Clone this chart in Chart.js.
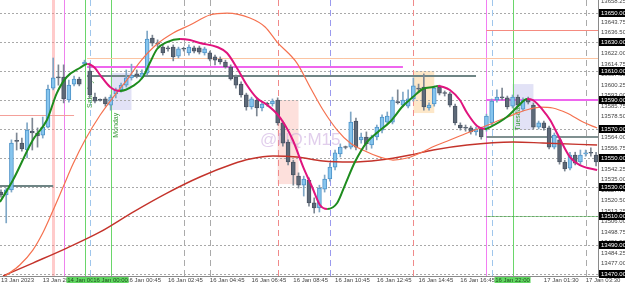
<!DOCTYPE html>
<html>
<head>
<meta charset="utf-8">
<script src="https://cdn.jsdelivr.net/npm/chart.js@4.4.1/dist/chart.umd.min.js"></script>
<style>
html, body { margin: 0; padding: 0; background: #fff; overflow: hidden; }
</style>
</head>
<body>
<canvas id="chart" width="625" height="283"></canvas>
<script>
// NQ M15 candles, bar index 0..114
const opens = [13526.5, 13524.5, 13528, 13561.75, 13560.25, 13555.5, 13568.5, 13567.25, 13565.75, 13571.25,
  13598.25, 13605.75, 13605.75, 13590, 13601, 13604.5, 13614.75, 13610, 13592, 13590,
  13590.75, 13586.5, 13594.25, 13597, 13600.25, 13605.25, 13608, 13605.75, 13608.5, 13632.75,
  13629.25, 13626.5, 13626, 13626.5, 13620.25, 13625.25, 13622.5, 13626, 13626, 13622.5,
  13622.5, 13619.75, 13618.25, 13616.25, 13612.75, 13605.75, 13601, 13593.5, 13585.25, 13590,
  13584.5, 13587.25, 13587.25, 13590, 13574.25, 13561, 13547.25, 13537.5, 13531.25, 13534.75,
  13519, 13515.5, 13528.5, 13535.5, 13543.75, 13552.75, 13557.5, 13557.5, 13575.5, 13562.5,
  13564.5, 13559, 13564.5, 13569.25, 13574.75, 13574.75, 13588.5, 13586.5, 13585.75, 13590.75,
  13598.25, 13599, 13584.5, 13587.25, 13599, 13594.75, 13594.25, 13585.75, 13572.75, 13570.75,
  13570.75, 13568, 13570, 13570, 13574.25, 13590, 13592, 13591.5, 13585.75, 13592,
  13583.75, 13590.75, 13586.5, 13571.25, 13574.25, 13570.75, 13557.5, 13562.5, 13547.25, 13543,
  13552, 13547.25, 13552.75, 13553.5, 13552]
const highs = [13528, 13529.25, 13562.5, 13567.25, 13563.75, 13574.25, 13577.5, 13570.75, 13578.25, 13600.25,
  13619, 13614.25, 13614.25, 13603.75, 13606.5, 13605.75, 13617.5, 13615.5, 13594.75, 13590.75,
  13592, 13593.5, 13598.25, 13601.75, 13610.75, 13614.75, 13610.75, 13610.75, 13637.5, 13634.75,
  13631.5, 13628.5, 13627.25, 13628, 13626.5, 13626.5, 13628, 13627.25, 13627.25, 13626.5,
  13623.75, 13621, 13619.75, 13617.5, 13614.25, 13607.25, 13602.5, 13594.75, 13592, 13591.5,
  13588.5, 13588.5, 13590.75, 13591.5, 13575.5, 13562.5, 13548.5, 13539.75, 13537.5, 13536.25,
  13522.5, 13531.25, 13538.25, 13546.5, 13555.5, 13559.75, 13558.25, 13581.75, 13577.5, 13567.25,
  13568, 13565.75, 13572.75, 13579.75, 13581.75, 13592, 13597, 13595.5, 13597, 13605.25,
  13601, 13608, 13588, 13599.75, 13600.25, 13596.25, 13595.5, 13587.25, 13574.25, 13572.75,
  13572, 13571.25, 13571.25, 13580.25, 13590.75, 13597, 13598.25, 13592.75, 13593.5, 13593.5,
  13591.5, 13592, 13588, 13575.5, 13575.5, 13572, 13567.25, 13563.75, 13548.5, 13554,
  13554, 13555.5, 13555.5, 13557, 13554]
const lows = [13523, 13505.25, 13526.5, 13555.5, 13554.75, 13550, 13555.5, 13557.5, 13563.75, 13570.75,
  13597, 13600.25, 13588, 13588.5, 13599.75, 13599.75, 13613.5, 13591.5, 13588, 13589.25,
  13585.75, 13583, 13591.5, 13595.5, 13599, 13603.75, 13605.25, 13604.5, 13607.25, 13627.25,
  13626.5, 13621, 13623.75, 13617, 13619, 13623.75, 13621, 13622.5, 13621.75, 13621,
  13617, 13614.25, 13614.75, 13612, 13603.75, 13598.25, 13592, 13583, 13583.75, 13579,
  13582.5, 13585.75, 13585.75, 13572.75, 13558.25, 13545.25, 13531.25, 13529.25, 13523.75, 13516.75,
  13512, 13512.75, 13526.5, 13534, 13541.75, 13550.75, 13556.25, 13556.25, 13555.5, 13560.25,
  13555.5, 13556.75, 13562.5, 13567.25, 13573.5, 13573.5, 13587.25, 13585.25, 13584.5, 13589.25,
  13595.5, 13583, 13583, 13585.75, 13593.5, 13592.75, 13585.25, 13572.75, 13569.25, 13568.5,
  13566.5, 13565.75, 13563, 13568.5, 13572.75, 13588.5, 13590, 13583.75, 13584.5, 13585.25,
  13582.5, 13587.25, 13570, 13570, 13569.25, 13556.25, 13556.25, 13545.75, 13541, 13541.75,
  13545.25, 13545.75, 13551.25, 13551.25, 13544.5]
const closes = [13524.5, 13528, 13560.25, 13561.5, 13556.25, 13569.25, 13567.25, 13565.25, 13571.25, 13597.5,
  13605.25, 13605.25, 13590.75, 13600.25, 13604.5, 13601, 13616.25, 13593.5, 13589.25, 13589.75,
  13587.25, 13592, 13597, 13600.25, 13605.25, 13607.25, 13606.5, 13608.5, 13632, 13629.25,
  13628.5, 13622.5, 13625.25, 13619.75, 13625.25, 13625, 13626.5, 13623.75, 13623, 13625.25,
  13618.25, 13617.5, 13616.25, 13612.75, 13604.5, 13600.25, 13593.5, 13585.25, 13590.75, 13584.5,
  13587.25, 13587, 13589.25, 13574.25, 13560.25, 13547.25, 13538.25, 13531.25, 13535.5, 13519,
  13515.5, 13529.25, 13535.5, 13543.75, 13553.5, 13557.5, 13557.25, 13574.75, 13557.5, 13564.5,
  13559.75, 13564.5, 13571.25, 13578.25, 13579, 13590, 13588.25, 13590, 13590.75, 13599.75,
  13597.5, 13585.25, 13586.5, 13598.25, 13594.75, 13594.5, 13586.5, 13574.25, 13570.75, 13570.5,
  13568, 13570, 13564.5, 13579, 13589.25, 13592, 13591.5, 13585.25, 13592, 13586.5,
  13590, 13588.5, 13571.25, 13574.25, 13570.75, 13557.5, 13565.75, 13547.25, 13542.5, 13552,
  13546.5, 13552, 13553.5, 13553.25, 13547.25]

// moving averages (bar index, price)
const fastMaIdx = [-0.2, 2.3, 6.1, 8.8, 10.7, 12.6, 15.1, 16.5, 18, 19, 20.9, 22.8, 25.3, 27.2, 28.5, 29.9, 31.8, 34.3, 36.2, 38.1,
  41.4, 43.3, 45.2, 47.1, 49, 51, 52.9, 54.4, 55.9, 57.9, 59.6, 61.1, 62.5, 64.4, 65.9, 67.8, 70.1, 72.2, 74.5, 77,
  78.9, 80.8, 82.8, 83.7, 84.7, 86, 87.9, 89.3, 91.2, 92.7, 93.7, 96.9, 98.9, 100.8, 101.9, 103.8, 105.2, 106.7, 109, 110.9, 114.2]
const fastMa = [13519.6, 13534.8, 13562.4, 13576.2, 13594.8, 13605.9, 13612.1, 13614.8, 13612.1, 13607.25, 13599, 13596.2, 13599.7, 13605.9, 13615.5, 13625.2, 13630, 13632.1, 13631.4, 13629.3,
  13626.6, 13622.4, 13612.1, 13600.35, 13591.4, 13586.55, 13580.35, 13572.75, 13562.4, 13543.75, 13530, 13517.55, 13514.8, 13518.95, 13531.35, 13547.2, 13561, 13567.9, 13574.8, 13585.85,
  13592.05, 13597.6, 13598.95, 13599.65, 13599, 13596.9, 13590, 13581, 13572.05, 13570, 13571.35, 13578.25, 13585.15, 13590.7, 13590, 13583.1, 13576.2, 13565.85, 13550.65, 13545.15, 13541.7]
const midMaIdx = [0.8, 3.6, 6.1, 8, 10, 11.9, 13.8, 16.1, 19, 21.8, 24.1, 26.6, 29.9, 33, 36.2, 40, 43.3, 47.7, 50.6, 52.9, 56.7,
  59.2, 61.7, 64.4, 66.9, 69.3, 72.6, 75.1, 77.8, 80.3, 83.1, 86, 89.3, 92.3, 95.6, 98.9, 101.3, 103.3, 105.7, 108.4, 111.5, 114.2]
const midMa = [13468.6, 13476.2, 13486.5, 13498.25, 13514.1, 13530, 13545.85, 13562.4, 13579.65, 13593.45, 13603.8, 13616.2, 13628.6, 13636.25, 13641.75, 13648.65, 13650, 13646.6, 13640.4, 13630, 13615.5,
  13599, 13583.1, 13569.3, 13560.35, 13555.5, 13550.65, 13548.6, 13550, 13553.45, 13558.25, 13562.4, 13567.25, 13571.35, 13576.2, 13581, 13583.8, 13585.15, 13584.5, 13581, 13574.8, 13570.7]
const slowMaIdx = [0.4, 6.1, 12.6, 19, 25.3, 31.8, 38.1, 44.4, 47.7, 52.1, 56.7, 61.7, 66.9, 72.6, 78.4, 82.8, 89.3, 98.1, 103.8, 114.2]
const slowMa = [13468.6, 13477.55, 13487.9, 13499, 13512.7, 13525.8, 13536.9, 13545.85, 13549.3, 13551.35, 13550.65, 13547.9, 13547.2, 13548.6, 13552.05, 13555.5, 13558.95, 13561, 13560.35, 13558.95]

// axis labels
const xTickIdx = [0, 8, 24, 32, 40, 48, 56, 64, 72, 80, 88, 104, 112]
const xTickText = ['13 Jan 2023', '13 Jan 20:00', '16 Jan 00:45', '16 Jan 02:45', '16 Jan 04:45', '16 Jan 06:45', '16 Jan 08:45',
  '16 Jan 10:45', '16 Jan 12:45', '16 Jan 14:45', '16 Jan 16:45', '17 Jan 01:30', '17 Jan 03:30']
const yTicks = [13658.25, 13651, 13643.75, 13636.5, 13629.25, 13622, 13614.75, 13607.5, 13600.25, 13593, 13585.75, 13578.5, 13571.25,
  13564, 13556.75, 13549.5, 13542.25, 13535, 13527.75, 13520.5, 13513.25, 13506, 13498.75, 13491.5, 13484.25, 13477, 13469.75]

// drawn objects
const levelPrices = [13650, 13630, 13610, 13590, 13570, 13550, 13530, 13510, 13490, 13470]
const hLinePrices = [13619, 13638.25, 13612.75, 13590, 13606.5, 13530.75, 13564.5, 13579.75, 13510]
const hLineFrom = [16.5, 93, 16.5, 93, 16.5, -1, 93, -1, 93]
const hLineTo = [120, 120, 77, 120, 91, 10, 120, 14, 120]
const vLineIdx = [10, 12, 16, 16, 17, 21, 35, 40, 53, 63, 79, 93, 94, 98, 112]
const boxFrom = [21, 53, 79, 98]
const boxTo = [25, 57, 83, 102]
const boxTop = [13608.6, 13590, 13610, 13601]
const boxBottom = [13583.1, 13532, 13581, 13569.3]
const dayNames = ['Saturday', 'Monday', 'Tuesday']
const dayIdx = [16, 21, 98]
const dayPrice = [13584.5, 13564, 13569]
const markerIdx = [16, 21, 98]
const markerText = ['14 Jan 00:00', '16 Jan 00:00', '16 Jan 22:00']

// styles
const hLineStyle = [
  {c: '#fbc4a2', w: 1}, {c: '#f58b80', w: 1}, {c: '#ee66ee', w: 2}, {c: '#ee66ee', w: 2}, {c: '#6f8585', w: 2},
  {c: '#6f8585', w: 2}, {c: '#7f9090', w: 2}, {c: '#f4a09a', w: 1}, {c: '#2e9e2e', w: 1, d: [1, 1]}
]
const vLineStyle = [
  {c: 'rgba(255,140,140,0.45)', w: 3}, {c: '#ee82ee', w: 1}, {c: '#aaaaaa', w: 1, d: [6, 4]}, {c: '#6ad66a', w: 1},
  {c: '#9fc6ec', w: 1, d: [6, 4]}, {c: '#6ad66a', w: 1}, {c: '#aaaaaa', w: 1, d: [6, 4]}, {c: '#aaaaaa', w: 1, d: [6, 4]},
  {c: '#f08a8a', w: 1, d: [6, 4]}, {c: '#9a9aee', w: 1, d: [6, 4]}, {c: '#f08a8a', w: 1, d: [6, 4]}, {c: '#f27ef2', w: 1},
  {c: '#9fc6ec', w: 1, d: [6, 4]}, {c: '#6ad66a', w: 1}, {c: '#aaaaaa', w: 1, d: [6, 4]}
]
const boxColors = ['#e2e2f6', '#fde0dc', '#fde7c8', '#e2e2f6']
const FONT = '"Liberation Sans", Arial, sans-serif'
const bullFill = '#86c5ee', bullLine = '#4e93c9', bearFill = '#5d6978', bearLine = '#4b5563'

const noPad = s => {
  s.paddingTop = 0
  s.paddingBottom = 0
  s.paddingLeft = 0
  s.paddingRight = 0
}

const overlay = {
  id: 'overlay',
  beforeDatasetsDraw(chart) {
    const {ctx, chartArea: a, scales: {x, y}} = chart
    ctx.save()
    ctx.beginPath()
    ctx.rect(a.left, a.top, a.right - a.left, a.bottom - a.top)
    ctx.clip()

    boxFrom.forEach((f, i) => {
      const x1 = x.getPixelForValue(f), x2 = x.getPixelForValue(boxTo[i])
      const y1 = y.getPixelForValue(boxTop[i]), y2 = y.getPixelForValue(boxBottom[i])
      ctx.fillStyle = boxColors[i]
      ctx.fillRect(x1, y1, x2 - x1, y2 - y1)
    })

    // dotted levels
    ctx.strokeStyle = '#a9a9a9'
    ctx.lineWidth = 1
    ctx.setLineDash([2, 2])
    levelPrices.forEach(p => {
      const py = Math.round(y.getPixelForValue(p)) + 0.5
      ctx.beginPath(); ctx.moveTo(a.left, py); ctx.lineTo(a.right, py); ctx.stroke()
    })

    vLineIdx.forEach((v, i) => {
      const s = vLineStyle[i]
      const px = Math.round(x.getPixelForValue(v)) + (s.w % 2 ? 0.5 : 0)
      ctx.strokeStyle = s.c
      ctx.lineWidth = s.w
      ctx.setLineDash(s.d || [])
      ctx.beginPath(); ctx.moveTo(px, a.top); ctx.lineTo(px, a.bottom); ctx.stroke()
    })

    hLinePrices.forEach((p, i) => {
      const s = hLineStyle[i]
      const py = Math.round(y.getPixelForValue(p)) + (s.w % 2 ? 0.5 : 0)
      ctx.strokeStyle = s.c
      ctx.lineWidth = s.w
      ctx.setLineDash(s.d || [])
      ctx.beginPath()
      ctx.moveTo(x.getPixelForValue(hLineFrom[i]), py)
      ctx.lineTo(x.getPixelForValue(hLineTo[i]), py)
      ctx.stroke()
    })
    ctx.setLineDash([])

    // watermark
    ctx.fillStyle = 'rgba(200,165,220,0.55)'
    ctx.font = '17px ' + FONT
    ctx.textBaseline = 'alphabetic'
    ctx.fillText('@NQ:M15', x.getPixelForValue(49.6), y.getPixelForValue(13559))

    // vertical day names
    ctx.fillStyle = '#3c9a3c'
    ctx.font = '7px ' + FONT
    dayNames.forEach((t, i) => {
      ctx.save()
      ctx.translate(x.getPixelForValue(dayIdx[i]) + 2, y.getPixelForValue(dayPrice[i]))
      ctx.rotate(-Math.PI / 2)
      ctx.textBaseline = 'top'
      ctx.fillText(t, 0, 0)
      ctx.restore()
    })
    ctx.restore()
  },
  afterDraw(chart) {
    const {ctx, chartArea: a, scales: {x, y}} = chart
    ctx.save()
    ctx.font = '6px ' + FONT
    ctx.textBaseline = 'middle'
    levelPrices.forEach(p => {
      const py = Math.round(y.getPixelForValue(p))
      ctx.fillStyle = '#000'
      ctx.fillRect(a.right + 1, py - 4, 26, 8)
      ctx.fillStyle = '#fff'
      ctx.fillText(p.toFixed(2), a.right + 3, py + 0.5)
    })
    markerIdx.forEach((m, i) => {
      const px = x.getPixelForValue(m)
      ctx.fillStyle = '#62d862'
      ctx.fillRect(px - 18, a.bottom + 1, 36, 7)
      ctx.fillStyle = '#1d4d1d'
      ctx.textAlign = 'center'
      ctx.fillText(markerText[i], px, a.bottom + 4.5)
    })
    ctx.restore()
  }
}

const candleX = opens.map((o, i) => i)
const isBull = opens.map((o, i) => closes[i] >= o)

new Chart(document.getElementById('chart'), {
  type: 'bar',
  data: {
    datasets: [
      {
        type: 'line', order: 0,
        data: fastMaIdx.map((v, i) => ({x: v, y: fastMa[i]})),
        borderWidth: 2, pointRadius: 0, cubicInterpolationMode: 'monotone',
        borderColor: '#1e8c1e',
        segment: {borderColor: c => c.p1.parsed.y >= c.p0.parsed.y ? '#1e8c1e' : '#e0147e'}
      },
      {
        type: 'line', order: 0,
        data: midMaIdx.map((v, i) => ({x: v, y: midMa[i]})),
        borderWidth: 1.2, pointRadius: 0, cubicInterpolationMode: 'monotone', borderColor: '#f5714f'
      },
      {
        type: 'line', order: 0,
        data: slowMaIdx.map((v, i) => ({x: v, y: slowMa[i]})),
        borderWidth: 1.4, pointRadius: 0, cubicInterpolationMode: 'monotone', borderColor: '#c4332b'
      },
      {
        order: 1, grouped: false, barThickness: 4, minBarLength: 1, borderWidth: 1, borderSkipped: false,
        data: candleX.map(i => ({x: i, y: [opens[i], closes[i]]})),
        backgroundColor: isBull.map(b => b ? bullFill : bearFill),
        borderColor: isBull.map(b => b ? bullLine : bearLine)
      },
      {
        order: 2, grouped: false, barThickness: 1, borderWidth: 0,
        data: candleX.map(i => ({x: i, y: [lows[i], highs[i]]})),
        backgroundColor: isBull.map(b => b ? '#7fa7c6' : '#7d8793')
      }
    ]
  },
  options: {
    responsive: false,
    animation: false,
    devicePixelRatio: 1,
    layout: {padding: 0},
    plugins: {legend: {display: false}, tooltip: {enabled: false}},
    scales: {
      x: {
        type: 'linear', min: -0.19, max: 114.37, offset: false,
        grid: {display: false, drawTicks: false},
        border: {display: true, color: '#8a8a8a'},
        ticks: {
          autoSkip: false, maxRotation: 0, align: 'start', padding: 1, color: '#444',
          font: {size: 6, family: FONT},
          callback: (v, i) => xTickText[i]
        },
        afterBuildTicks: s => { s.ticks = xTickIdx.map(v => ({value: v})) },
        afterFit: s => { s.height = 7; noPad(s) }
      },
      y: {
        position: 'right', min: 13468.6, max: 13659,
        grid: {display: false, drawTicks: false},
        border: {display: true, color: '#8a8a8a'},
        ticks: {
          autoSkip: false, padding: 3, color: '#444',
          font: {size: 6, family: FONT},
          callback: v => v.toFixed(2)
        },
        afterBuildTicks: s => { s.ticks = yTicks.map(v => ({value: v})) },
        afterFit: s => { s.width = 27; noPad(s) }
      }
    }
  },
  plugins: [overlay]
})
</script>
</body>
</html>
